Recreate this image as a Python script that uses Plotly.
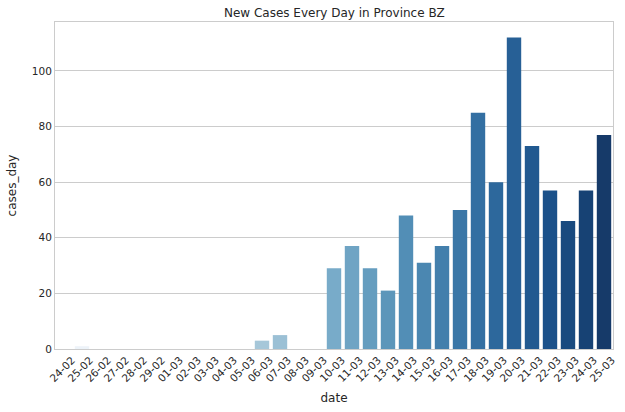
import colorsys
import plotly.graph_objects as go

dates = ["24-02", "25-02", "26-02", "27-02", "28-02", "29-02", "01-03", "02-03",
         "03-03", "04-03", "05-03", "06-03", "07-03", "08-03", "09-03", "10-03",
         "11-03", "12-03", "13-03", "14-03", "15-03", "16-03", "17-03", "18-03",
         "19-03", "20-03", "21-03", "22-03", "23-03", "24-03", "25-03"]
cases_day = [0, 1, 0, 0, 0, 0, 0, 0, 0, 0, 0, 3, 5, 0, 0, 29,
             37, 29, 21, 48, 31, 37, 50, 85, 60, 112, 73, 57, 46, 57, 77]

# matplotlib "Blues" colormap anchors
blues = [
    (0.9686, 0.9843, 1.0), (0.8706, 0.9216, 0.9686), (0.7765, 0.8588, 0.9373),
    (0.6196, 0.7922, 0.8824), (0.4196, 0.6824, 0.8392), (0.2588, 0.5725, 0.7765),
    (0.1294, 0.4431, 0.7098), (0.0314, 0.3176, 0.6118), (0.0314, 0.1882, 0.4196),
]


def cmap(x):
    p = x * (len(blues) - 1)
    i = min(int(p), len(blues) - 2)
    f = p - i
    return tuple(blues[i][k] + (blues[i + 1][k] - blues[i][k]) * f for k in range(3))


def desat(c, prop=0.75):
    h, l, s = colorsys.rgb_to_hls(*c)
    return colorsys.hls_to_rgb(h, l, s * prop)


n = len(dates)
colors = []
for j in range(n):
    r, g, b = desat(cmap((j + 1) / (n + 1)))
    colors.append(f"rgb({round(r*255)},{round(g*255)},{round(b*255)})")

fig = go.Figure(go.Bar(x=dates, y=cases_day, marker=dict(color=colors, line=dict(width=0)),
                       width=0.8))

font = "DejaVu Sans, Arial, sans-serif"
fig.update_layout(
    width=625, height=412,
    margin=dict(l=55, r=12, t=22, b=63),
    plot_bgcolor="white", paper_bgcolor="white",
    font=dict(family=font, size=11, color="#262626"),
    title=dict(text="New Cases Every Day in Province BZ", x=0.535, xanchor="center",
               y=0.968, yanchor="middle", font=dict(size=12, color="#262626")),
    showlegend=False,
    bargap=0.2,
)
fig.update_xaxes(
    type="category", range=[-0.5, n - 0.5], tickangle=-45, ticklabelshift=8,
    showline=True, linecolor="#cccccc", linewidth=1, mirror=True,
    showgrid=False, ticks="", tickfont=dict(size=10.5), automargin=False,
    title=dict(text="date", font=dict(size=12), standoff=10),
)
fig.update_yaxes(
    range=[0, 117.6], tickvals=[0, 20, 40, 60, 80, 100],
    showline=True, linecolor="#cccccc", linewidth=1, mirror=True,
    showgrid=True, gridcolor="#cccccc", gridwidth=1, zeroline=False,
    ticks="", tickfont=dict(size=10.5), automargin=False,
    title=dict(text="cases_day", font=dict(size=12), standoff=12),
)
fig.write_html("out.html")
